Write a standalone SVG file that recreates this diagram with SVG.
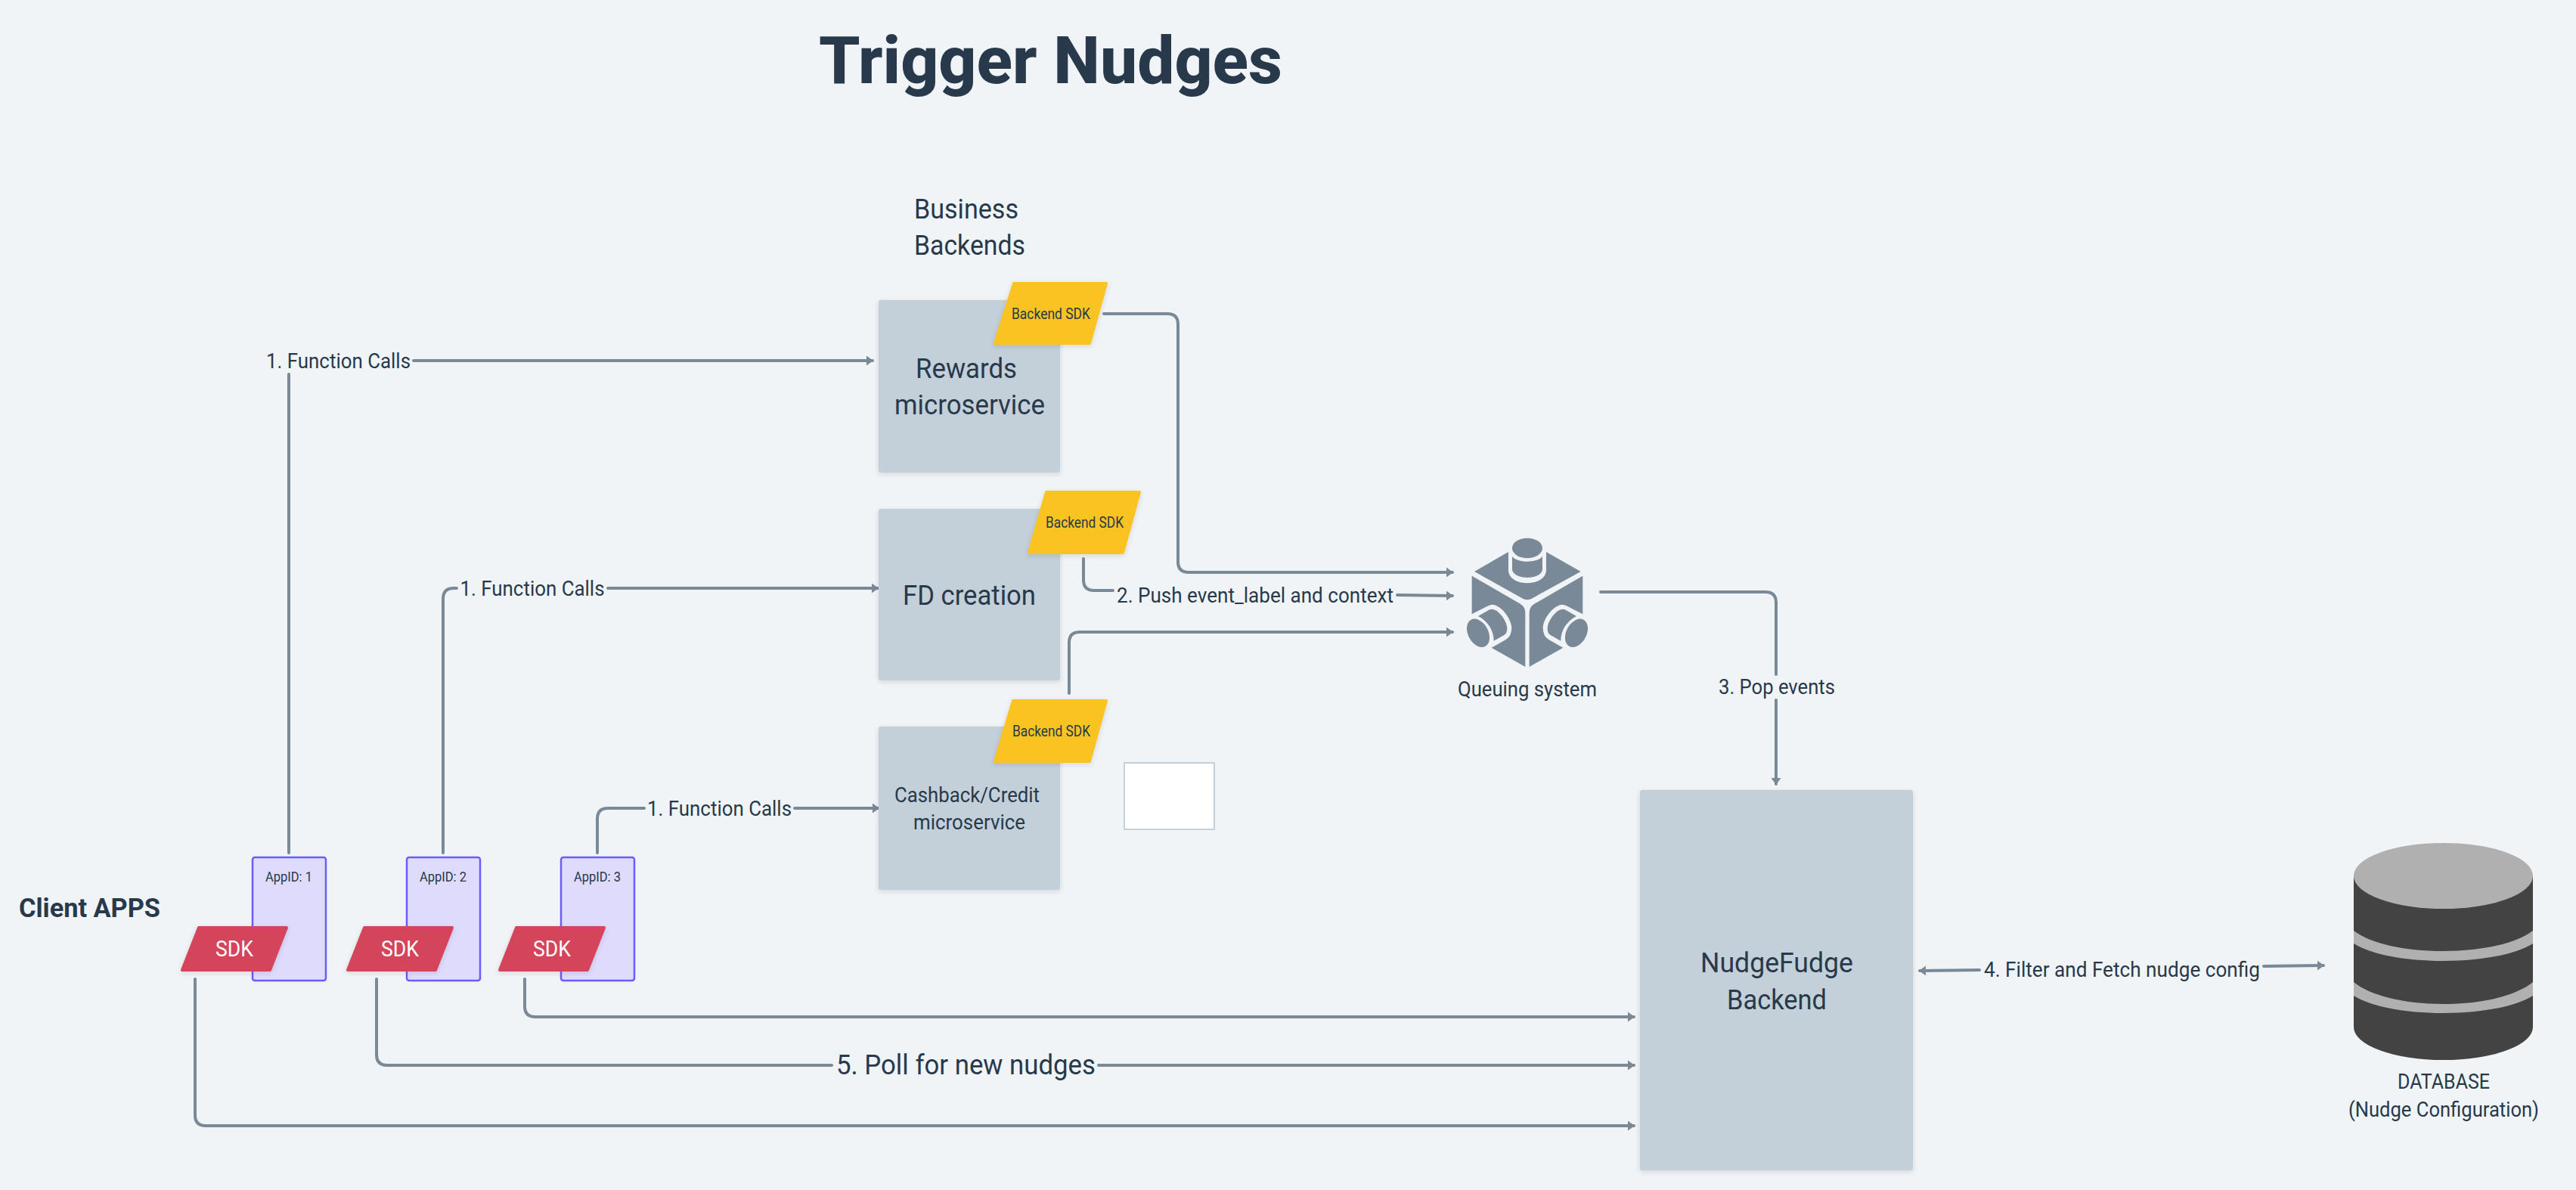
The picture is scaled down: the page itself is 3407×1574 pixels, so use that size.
<svg xmlns="http://www.w3.org/2000/svg" width="3407" height="1574" viewBox="0 0 3407 1574">
<style>
text{font-family:"Roboto","Liberation Sans",sans-serif;fill:#27394A;text-anchor:middle}
.box{fill:#C3CFD9;filter:url(#sh)}
.ysdk{fill:#F9C424;stroke:#F9C424;stroke-width:4;stroke-linejoin:round;filter:url(#sh)}
.rsdk{fill:#D4455B;stroke:#D4455B;stroke-width:4;stroke-linejoin:round;filter:url(#sh)}
.app{fill:#DEDBFD;stroke:#6A5CFF;stroke-width:2.5}
.con{fill:none;stroke:#7A8997;stroke-width:4;stroke-linecap:round}
.arr{marker-end:url(#ah)}
.q{fill:#7A8997}
.db{fill:#434343}
.dbl{fill:#B0B0B0}
.f33{font-size:36px}
.f26{font-size:28px}
.f19{font-size:20px}
.f17{font-size:19px}
</style>
<defs>
<filter id="sh" x="-10%" y="-10%" width="120%" height="125%"><feDropShadow dx="0" dy="2" stdDeviation="3" flood-color="#27394A" flood-opacity="0.14"/></filter>
<marker id="ah" markerUnits="userSpaceOnUse" viewBox="0 0 9 13" markerWidth="9" markerHeight="13" refX="8" refY="6.5" orient="auto"><path d="M0,0L9,6.5L0,13z" fill="#7A8997"/></marker>
</defs>
<rect width="3407" height="1574" fill="#F0F4F7"/>

<g id="title"><text x="1389.5" y="110" font-size="88" font-weight="800" textLength="613" lengthAdjust="spacingAndGlyphs">Trigger Nudges</text></g>
<g id="business-backends-label">
<text class="f33" x="1278" y="289" textLength="138" lengthAdjust="spacingAndGlyphs">Business</text>
<text class="f33" x="1282.5" y="337" textLength="147" lengthAdjust="spacingAndGlyphs">Backends</text>
</g>
<g id="client-apps-label"><text x="118.5" y="1213" font-size="35" font-weight="700" textLength="187" lengthAdjust="spacingAndGlyphs">Client APPS</text></g>

<g id="connectors">
<path class="con" d="M382,1128V495"/>
<path class="con arr" d="M547,477H1154" />
<path class="con" d="M586,1128V792Q586,778 600,778H604"/>
<path class="con arr" d="M804,778H1161"/>
<path class="con" d="M790,1128V1083Q790,1069 804,1069H852"/>
<path class="con arr" d="M1051,1069H1162"/>
<path class="con arr" d="M1460,415H1544Q1558,415 1558,429V743Q1558,757 1572,757H1921"/>
<path class="con" d="M1433,739V767Q1433,781 1447,781H1472"/>
<path class="con arr" d="M1848,787L1921,788"/>
<path class="con arr" d="M1414,917V850Q1414,836 1428,836H1921"/>
<path class="con" d="M2117,783H2335Q2349,783 2349,797V892"/>
<path class="con arr" d="M2349,926V1037"/>
<path class="con arr" d="M2618,1283L2539,1284"/>
<path class="con arr" d="M2994,1278L3073,1277"/>
<path class="con arr" d="M694,1295V1331Q694,1345 708,1345H2161"/>
<path class="con" d="M498,1295V1395Q498,1409 512,1409H1100"/>
<path class="con arr" d="M1453,1409H2161"/>
<path class="con arr" d="M258,1295V1475Q258,1489 272,1489H2161"/>
<text class="f26" x="447.5" y="487" textLength="191" lengthAdjust="spacingAndGlyphs">1. Function Calls</text>
<text class="f26" x="704" y="788" textLength="191" lengthAdjust="spacingAndGlyphs">1. Function Calls</text>
<text class="f26" x="951.5" y="1079" textLength="191" lengthAdjust="spacingAndGlyphs">1. Function Calls</text>
<text class="f26" x="1660" y="797" textLength="366" lengthAdjust="spacingAndGlyphs">2. Push event_label and context</text>
<text class="f26" x="2350" y="918" textLength="154" lengthAdjust="spacingAndGlyphs">3. Pop events</text>
<text class="f26" x="2806.5" y="1292" textLength="365" lengthAdjust="spacingAndGlyphs">4. Filter and Fetch nudge config</text>
<text class="f33" x="1277.5" y="1421" textLength="343" lengthAdjust="spacingAndGlyphs">5. Poll for new nudges</text>
</g>

<g id="app-1"><rect class="app" x="334" y="1134" width="97" height="163" rx="3"/><text class="f17" x="382" y="1166" textLength="62" lengthAdjust="spacingAndGlyphs">AppID: 1</text></g>
<g id="app-2"><rect class="app" x="538" y="1134" width="97" height="163" rx="3"/><text class="f17" x="586" y="1166" textLength="62" lengthAdjust="spacingAndGlyphs">AppID: 2</text></g>
<g id="app-3"><rect class="app" x="742" y="1134" width="97" height="163" rx="3"/><text class="f17" x="790" y="1166" textLength="62" lengthAdjust="spacingAndGlyphs">AppID: 3</text></g>

<g id="sdk-1"><path class="rsdk" d="M263,1227H379L357,1283H241z"/><text x="310" y="1265" font-size="29" style="fill:#fff" textLength="50" lengthAdjust="spacingAndGlyphs">SDK</text></g>
<g id="sdk-2"><path class="rsdk" d="M482,1227H598L576,1283H460z"/><text x="529" y="1265" font-size="29" style="fill:#fff" textLength="50" lengthAdjust="spacingAndGlyphs">SDK</text></g>
<g id="sdk-3"><path class="rsdk" d="M683,1227H799L777,1283H661z"/><text x="730" y="1265" font-size="29" style="fill:#fff" textLength="50" lengthAdjust="spacingAndGlyphs">SDK</text></g>

<g id="rewards">
<rect class="box" x="1162" y="397" width="240" height="228" rx="3"/>
<text class="f33" x="1278" y="500" textLength="134" lengthAdjust="spacingAndGlyphs">Rewards</text>
<text class="f33" x="1282.5" y="548" textLength="199" lengthAdjust="spacingAndGlyphs">microservice</text>
<path class="ysdk" d="M1341,375H1463L1441,454H1316z"/>
<text class="f19" x="1390" y="422" textLength="104" lengthAdjust="spacingAndGlyphs">Backend SDK</text>
</g>
<g id="fd-creation">
<rect class="box" x="1162" y="673" width="240" height="227" rx="3"/>
<text class="f33" x="1282" y="800" textLength="176" lengthAdjust="spacingAndGlyphs">FD creation</text>
<path class="ysdk" d="M1384,651H1507L1485,731H1361z"/>
<text class="f19" x="1434.5" y="698" textLength="103" lengthAdjust="spacingAndGlyphs">Backend SDK</text>
</g>
<g id="cashback">
<rect class="box" x="1162" y="961" width="240" height="216" rx="3"/>
<text class="f26" x="1279" y="1061" textLength="192" lengthAdjust="spacingAndGlyphs">Cashback/Credit</text>
<text class="f26" x="1282" y="1097" textLength="148" lengthAdjust="spacingAndGlyphs">microservice</text>
<path class="ysdk" d="M1340,927H1463L1441,1007H1316z"/>
<text class="f19" x="1390.5" y="974" textLength="103" lengthAdjust="spacingAndGlyphs">Backend SDK</text>
</g>
<g id="empty-box"><rect x="1487" y="1009" width="119" height="88" fill="#fff" stroke="#C3CFD9" stroke-width="2"/></g>

<g id="queuing-system">
<g class="q" transform="translate(1900 680) scale(.3333)">
<ellipse cx="360" cy="135" rx="60" ry="40"/>
<path d="M300,168C320,195 400,195 420,168V222C410,262 310,262 300,222z"/>
<path d="M150,228L285,150V225C290,290 430,290 435,225V150L572,228L378,335Q360,345 342,335z"/>
<path d="M140,245L330,355Q352,368 352,390V606L218,530L275,498Q298,485 298,450C295,415 265,375 235,362Q220,355 205,364L140,397z"/>
<path d="M580,245L390,355Q368,368 368,390V606L502,530L445,498Q422,485 422,450C425,415 455,375 485,362Q500,355 515,364L580,397z"/>
<path d="M165,405L208,380Q222,373 240,385C265,405 280,435 280,455Q280,472 268,480L227,503C228,465 205,425 165,405z"/>
<path d="M555,405L512,380Q498,373 480,385C455,405 440,435 440,455Q440,472 452,480L493,503C492,465 515,425 555,405z"/>
<ellipse cx="165" cy="472" rx="40" ry="60" transform="rotate(-28 165 472)"/>
<ellipse cx="555" cy="472" rx="40" ry="60" transform="rotate(28 555 472)"/>
</g>
<text x="2020" y="921" font-size="27" textLength="184" lengthAdjust="spacingAndGlyphs">Queuing system</text>
</g>

<g id="nudgefudge-backend">
<rect class="box" x="2169" y="1045" width="361" height="503" rx="3"/>
<text class="f33" x="2350" y="1286" textLength="202" lengthAdjust="spacingAndGlyphs">NudgeFudge</text>
<text class="f33" x="2350" y="1335" textLength="132" lengthAdjust="spacingAndGlyphs">Backend</text>
</g>

<g id="database">
<path class="db" d="M3113,1158.500V1358.500A118.500,43.500 0 0 0 3350,1358.500V1158.500z"/>
<path class="dbl" d="M3113,1231C3135,1248 3180,1258 3231.500,1258C3283,1258 3328,1248 3350,1231V1248C3328,1262 3283,1271 3231.500,1271C3180,1271 3135,1262 3113,1248z"/>
<path class="dbl" d="M3113,1299C3135,1317 3180,1328 3231.500,1328C3283,1328 3328,1317 3350,1299V1317C3328,1331 3283,1340 3231.500,1340C3180,1340 3135,1331 3113,1317z"/>
<ellipse class="dbl" cx="3231.500" cy="1158.500" rx="118.500" ry="43.500"/>
<text class="f26" x="3232" y="1440" textLength="122" lengthAdjust="spacingAndGlyphs">DATABASE</text>
<text class="f26" x="3232" y="1477" textLength="252" lengthAdjust="spacingAndGlyphs">(Nudge Configuration)</text>
</g>
</svg>
